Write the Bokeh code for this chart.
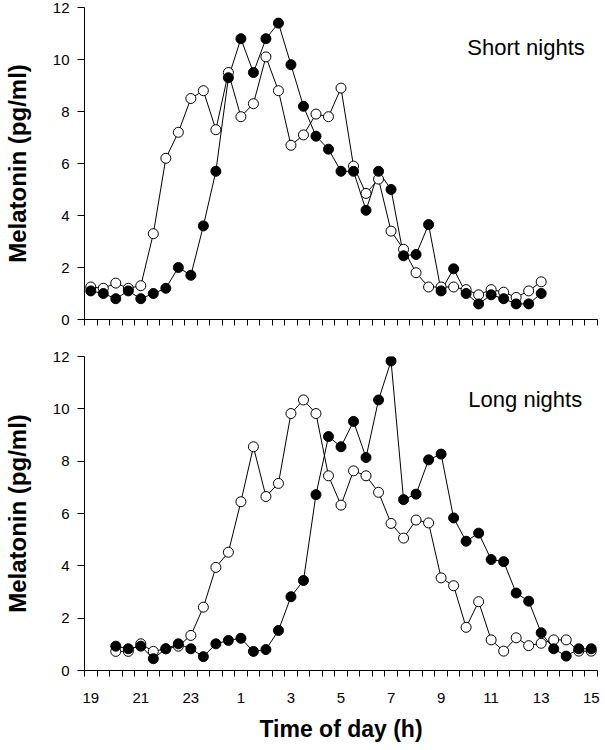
from bokeh.plotting import figure
from bokeh.layouts import column
from bokeh.models import Range1d, FixedTicker, Label
from bokeh.embed import file_html
from bokeh.resources import INLINE

FONT = "Liberation Sans"

# ---- data (time in hours since midnight of day 1; 25 = 01:00 next day) ----
short_time = [19.0, 19.5, 20.0, 20.5, 21.0, 21.5, 22.0, 22.5, 23.0, 23.5,
              24.0, 24.5, 25.0, 25.5, 26.0, 26.5, 27.0, 27.5, 28.0, 28.5,
              29.0, 29.5, 30.0, 30.5, 31.0, 31.5, 32.0, 32.5, 33.0, 33.5,
              34.0, 34.5, 35.0, 35.5, 36.0, 36.5, 37.0]
short_filled = [1.1, 1.0, 0.8, 1.1, 0.8, 1.0, 1.2, 2.0, 1.7, 3.6,
                5.7, 9.3, 10.8, 9.5, 10.8, 11.4, 9.8, 8.2, 7.05, 6.55,
                5.7, 5.7, 4.2, 5.7, 5.0, 2.45, 2.5, 3.65, 1.1, 1.95,
                1.0, 0.6, 0.95, 0.8, 0.6, 0.6, 1.0]
short_open = [1.25, 1.2, 1.4, 1.2, 1.3, 3.3, 6.2, 7.2, 8.5, 8.8,
              7.3, 9.5, 7.8, 8.3, 10.1, 8.8, 6.7, 7.1, 7.9, 7.8,
              8.9, 5.9, 4.85, 5.4, 3.4, 2.7, 1.8, 1.25, 1.25, 1.25,
              1.15, 0.95, 1.15, 1.05, 0.85, 1.1, 1.45]

long_time = [20.0, 20.5, 21.0, 21.5, 22.0, 22.5, 23.0, 23.5, 24.0, 24.5,
             25.0, 25.5, 26.0, 26.5, 27.0, 27.5, 28.0, 28.5, 29.0, 29.5,
             30.0, 30.5, 31.0, 31.5, 32.0, 32.5, 33.0, 33.5, 34.0, 34.5,
             35.0, 35.5, 36.0, 36.5, 37.0, 37.5, 38.0, 38.5, 39.0]
long_filled = [0.93, 0.83, 0.93, 0.45, 0.83, 1.02, 0.83, 0.53, 1.02, 1.15,
               1.23, 0.73, 0.8, 1.53, 2.82, 3.44, 6.72, 8.94, 8.55, 9.52,
               8.14, 10.34, 11.83, 6.53, 6.74, 8.05, 8.27, 5.83, 4.94, 5.25,
               4.24, 4.16, 2.96, 2.65, 1.44, 0.83, 0.55, 0.83, 0.83]
long_open = [0.73, 0.73, 1.02, 0.73, 0.83, 0.93, 1.34, 2.42, 3.94, 4.52,
             6.45, 8.55, 6.65, 7.15, 9.82, 10.34, 9.82, 7.44, 6.32, 7.63,
             7.44, 6.81, 5.62, 5.06, 5.75, 5.64, 3.54, 3.24, 1.65, 2.63,
             1.17, 0.74, 1.25, 0.95, 1.04, 1.17, 1.17, 0.74, 0.74]

x_tick_values = [19, 21, 23, 25, 27, 29, 31, 33, 35, 37, 39]
x_tick_labels = ["19", "21", "23", "1", "3", "5", "7", "9", "11", "13", "15"]
y_tick_values = [0, 2, 4, 6, 8, 10, 12]

panel_titles = ["Short nights", "Long nights"]
y_title = "Melatonin (pg/ml)"
x_title = "Time of day (h)"

# ---- layout helpers ----
X0, X1 = 18.75, 39.25
x_minor = [X0 + 0.5 * k for k in range(int(round((X1 - X0) / 0.5)) + 1)]


def make_panel(height, b_top, b_bottom, times, filled, opn, title, tx, ty, show_x):
    p = figure(width=605, height=height,
               x_range=Range1d(X0, X1), y_range=Range1d(0, 12),
               output_backend="svg", toolbar_location=None,
               min_border_left=79, min_border_right=8,
               min_border_top=b_top, min_border_bottom=b_bottom,
               background_fill_color="white", border_fill_color="white",
               outline_line_color=None)
    p.grid.visible = False

    xa = p.xaxis[0]
    xa.major_tick_out = 0
    xa.major_tick_in = 0
    xa.minor_tick_out = 6
    xa.minor_tick_in = 0
    xa.axis_line_color = "black"
    xa.minor_tick_line_color = "black"
    if show_x:
        xa.ticker = FixedTicker(ticks=x_tick_values, minor_ticks=x_minor)
        xa.major_label_overrides = dict(zip(x_tick_values, x_tick_labels))
        xa.major_label_text_font = FONT
        xa.major_label_text_color = "black"
        xa.major_label_text_font_size = "15px"
        xa.major_label_standoff = 16
        xa.axis_label = x_title
        xa.axis_label_text_font = FONT
        xa.axis_label_text_font_size = "23px"
        xa.axis_label_text_font_style = "bold"
        xa.axis_label_text_color = "black"
        xa.axis_label_standoff = 10
    else:
        xa.ticker = FixedTicker(ticks=[], minor_ticks=x_minor)

    ya = p.yaxis[0]
    ya.ticker = FixedTicker(ticks=y_tick_values, minor_ticks=[])
    ya.major_tick_out = 7
    ya.major_tick_in = 0
    ya.minor_tick_out = 0
    ya.minor_tick_in = 0
    ya.axis_line_color = "black"
    ya.major_tick_line_color = "black"
    ya.major_label_text_font = FONT
    ya.major_label_text_font_size = "15px"
    ya.major_label_text_color = "black"
    ya.major_label_standoff = 8
    ya.axis_label = y_title
    ya.axis_label_text_font = FONT
    ya.axis_label_text_font_size = "24px"
    ya.axis_label_text_font_style = "bold"
    ya.axis_label_text_color = "black"
    ya.axis_label_standoff = 19

    p.line(times, opn, line_color="black", line_width=1)
    p.line(times, filled, line_color="black", line_width=1)
    p.scatter(times, opn, marker="circle", size=10,
              fill_color="white", line_color="black", line_width=1)
    p.scatter(times, filled, marker="circle", size=10,
              fill_color="black", line_color="black", line_width=1)

    p.add_layout(Label(x=tx, y=ty, text=title, text_font=FONT,
                       text_font_size="22px", text_color="black",
                       text_baseline="alphabetic", text_align="left"))
    return p


p_top = make_panel(338, 7, 19, short_time, short_filled, short_open,
                   panel_titles[0], 34.05, 10.45, False)
p_bot = make_panel(412, 18, 80, long_time, long_filled, long_open,
                   panel_titles[1], 34.09, 10.35, True)

layout = column(p_top, p_bot, spacing=0)

open("out.html", "w").write(file_html(layout, INLINE))
